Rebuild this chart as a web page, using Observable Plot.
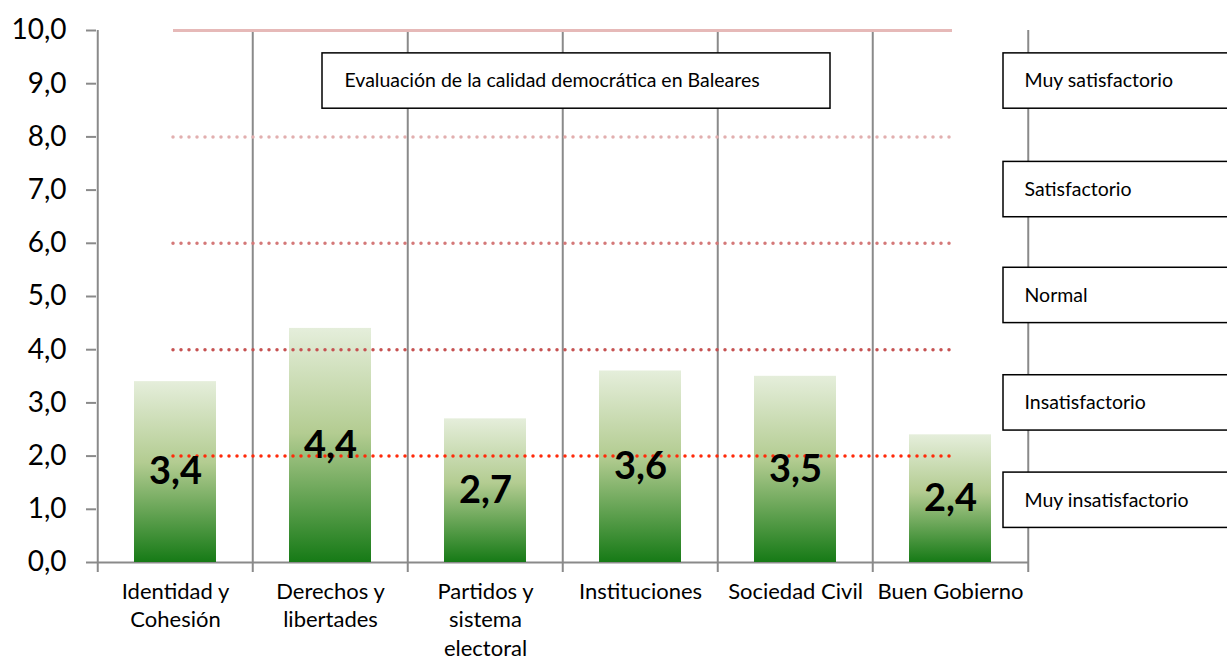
<!DOCTYPE html>
<html><head><meta charset="utf-8">
<script src="https://cdn.jsdelivr.net/npm/d3@7"></script>
<script src="https://cdn.jsdelivr.net/npm/@observablehq/plot@0.6"></script>
<style>html,body{margin:0;padding:0;background:#fff;overflow:hidden}</style>
</head><body><div id="chart"></div>
<script>
const categories = ["Identidad y\nCohesión", "Derechos y\nlibertades", "Partidos y\nsistema\nelectoral", "Instituciones", "Sociedad Civil", "Buen Gobierno"];
const values = [3.4, 4.4, 2.7, 3.6, 3.5, 2.4];
const yTicks = [0, 1, 2, 3, 4, 5, 6, 7, 8, 9, 10];
const thresholds = [2, 4, 6, 8];
const thresholdColors = ["#ff2a0a", "#c65252", "#d47878", "#e2afaf"];
const topLine = 10;
const levelLabels = ["Muy insatisfactorio", "Insatisfactorio", "Normal", "Satisfactorio", "Muy satisfactorio"];
const levelCenters = [1.17, 3.0, 5.02, 7.01, 9.05];
const title = "Evaluación de la calidad democrática en Baleares";
const titleCenter = 9.05;

const bars = categories.map((c, i) => ({category: c, value: values[i]}));
const fmt = v => d3.format(".1f")(v).replace(".", ",");
const W = 1227, ML = 96, MR = 198;
const step = (W - ML - MR) / categories.length;
const grid = {stroke: "#8a8a8a", strokeWidth: 2};
const first = categories[0], last = categories[categories.length - 1];
const lineSpan = {x1: () => first, x2: () => last, insetLeft: 39, insetRight: 39};

const chart = Plot.plot({
  width: W, height: 659,
  marginLeft: ML, marginRight: MR, marginTop: 30, marginBottom: 97,
  style: {fontFamily: "Lato", background: "white", color: "black"},
  x: {domain: categories, paddingInner: 0.47, paddingOuter: 0.235, axis: null, label: null},
  y: {domain: [0, 10], axis: null, label: null},
  marks: [
    Plot.ruleX(categories, {x: d => d, y1: -0.19, y2: 10, dx: -step / 2, ...grid}),
    Plot.ruleX([last], {x: d => d, y1: -0.19, y2: 10, dx: step / 2, ...grid}),
    Plot.ruleY([0], grid),
    Plot.axisY({ticks: yTicks, tickSize: 10, tickPadding: 20, tickFormat: fmt, fontSize: 28, stroke: "#8a8a8a", fill: "black", strokeWidth: 2, label: null}),
    Plot.axisX({tickSize: 0, tickPadding: 16, fontSize: 22, lineHeight: 1.3, fill: "black", label: null}),
    Plot.barY(bars, {x: "category", y: "value", fill: "url(#barGrad)"}),
    Plot.ruleY([topLine], {...lineSpan, stroke: "#e6b9b8", strokeWidth: 3}),
    ...thresholds.map((t, i) => Plot.ruleY([t], {...lineSpan, stroke: thresholdColors[i], strokeWidth: 3.5, strokeDasharray: "0,8", strokeLinecap: "round"})),
    Plot.text(bars, {x: "category", y: d => d.value / 2, text: d => fmt(d.value), fontSize: 38, fontWeight: "bold", fill: "black"}),
    Plot.rect([titleCenter], {y1: d => d - 0.52, y2: d => d + 0.52, insetLeft: 226, insetRight: 199, fill: "white", stroke: "black", strokeWidth: 1.5}),
    Plot.text([title], {frameAnchor: "left", y: titleCenter, dx: 248, textAnchor: "start", fontSize: 19.5, fill: "black"}),
    Plot.rect(levelCenters, {y1: d => d - 0.52, y2: d => d + 0.52, insetLeft: 907, insetRight: -215, fill: "white", stroke: "black", strokeWidth: 1.5}),
    Plot.text(levelLabels, {y: (d, i) => levelCenters[i], frameAnchor: "right", dx: -5, textAnchor: "start", fontSize: 19.5, fill: "black"})
  ]
});

const svg = d3.select(chart);
const grad = svg.insert("defs", ":first-child").append("linearGradient")
  .attr("id", "barGrad").attr("x1", 0).attr("y1", 0).attr("x2", 0).attr("y2", 1);
grad.append("stop").attr("offset", "0%").attr("stop-color", "#e5eedb");
grad.append("stop").attr("offset", "45%").attr("stop-color", "#b3cc91");
grad.append("stop").attr("offset", "100%").attr("stop-color", "#167a16");

document.getElementById("chart").appendChild(chart);
</script>
</body></html>
